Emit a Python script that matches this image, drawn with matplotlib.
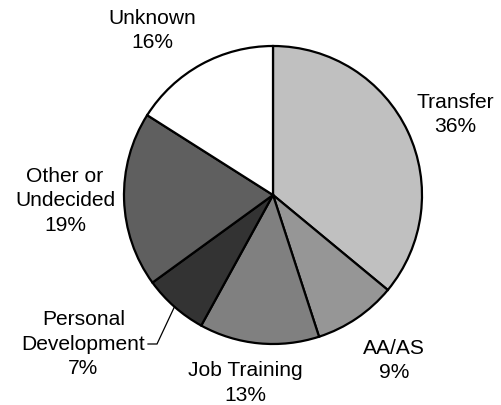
import numpy as np
import matplotlib
matplotlib.use("Agg")
import matplotlib.pyplot as plt

# Data
categories = ["Transfer", "AA/AS", "Job Training", "Personal\nDevelopment",
              "Other or\nUndecided", "Unknown"]
shares = [36, 9, 13, 7, 19, 16]
colors = ["#c0c0c0", "#969696", "#808080", "#333333", "#5f5f5f", "#ffffff"]

# Layout (pixel coordinates of the image, y downward); label = (center x, top y)
W, H = 502, 406
center_px = (273, 196)
radius_px = 149
label_pos_px = [(455.5, 93), (394, 339), (245, 361.5), (83.5, 310.5), (65, 167), (152, 9)]
leader_elbow_px = [None, None, None, (157, 345), None, None]
leader_end_px = [None, None, None, (148, 345), None, None]

fig = plt.figure(figsize=(W / 100, H / 100), dpi=100)
ax = fig.add_axes([0, 0, 1, 1])

cx, cy = center_px[0], H - center_px[1]
wedges, _ = ax.pie(shares, colors=colors, startangle=90, counterclock=False,
                   center=(cx, cy), radius=radius_px, frame=True,
                   wedgeprops=dict(edgecolor="black", linewidth=1.6))
ax.set_xlim(0, W)
ax.set_ylim(0, H)
ax.axis("off")

for w, cat, val, pos, elb, end in zip(wedges, categories, shares, label_pos_px,
                                      leader_elbow_px, leader_end_px):
    ax.text(pos[0], H - pos[1], f"{cat}\n{val}%", ha="center", va="top",
            fontsize=15.1, family="Liberation Sans", linespacing=1.36, color="black")
    if elb is not None:
        mid = np.deg2rad((w.theta1 + w.theta2) / 2)
        ex, ey = cx + radius_px * np.cos(mid), cy + radius_px * np.sin(mid)
        ax.plot([ex, elb[0], end[0]], [ey, H - elb[1], H - end[1]],
                color="black", linewidth=0.9, solid_joinstyle="miter")

fig.savefig("out.png", dpi=100)
